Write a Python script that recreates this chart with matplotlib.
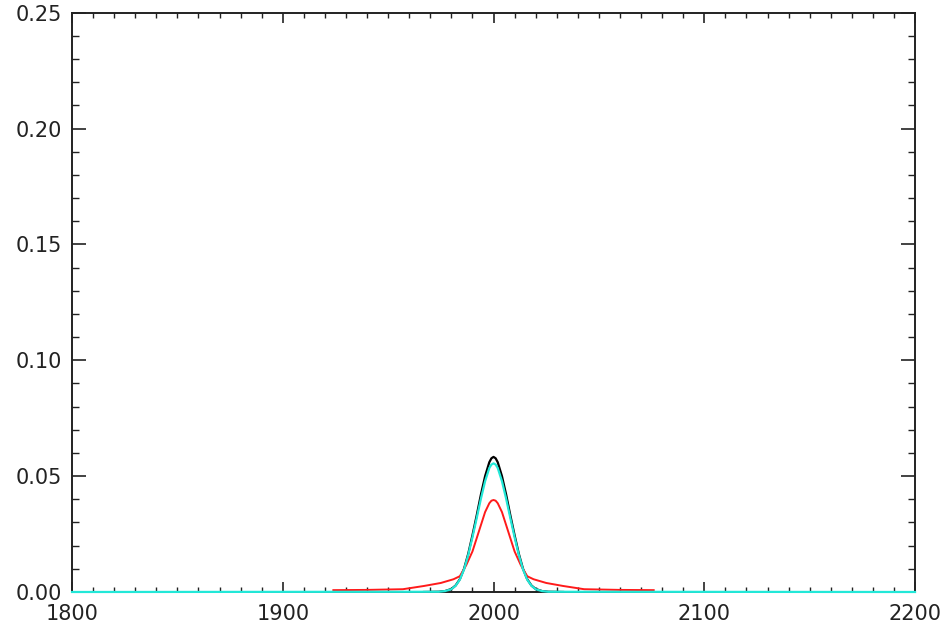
import matplotlib
matplotlib.use("Agg")
import matplotlib.pyplot as plt
from matplotlib.ticker import MultipleLocator

# ---- data ----
black_x = [1967, 1974, 1977, 1980, 1982, 1984, 1986, 1988, 1990, 1992, 1994, 1996, 1998, 1999, 2000,
           2001, 2002, 2004, 2006, 2008, 2010, 2012, 2014, 2016, 2018, 2020, 2023, 2026, 2033]
black_y = [0.0, 0.0001, 0.0004, 0.0013, 0.0028, 0.0055, 0.0100, 0.0165, 0.0245, 0.0330, 0.0420,
           0.0500, 0.0560, 0.0577, 0.0583, 0.0577, 0.0560, 0.0500, 0.0420, 0.0330, 0.0245,
           0.0165, 0.0100, 0.0055, 0.0028, 0.0013, 0.0004, 0.0001, 0.0]

cyan_x = [1800, 1974, 1977, 1980, 1982, 1984, 1986, 1988, 1990, 1992, 1994, 1996, 1998, 1999, 2000,
          2001, 2002, 2004, 2006, 2008, 2010, 2012, 2014, 2016, 2018, 2020, 2023, 2026, 2200]
cyan_y = [0.0, 0.0001, 0.0004, 0.0012, 0.0027, 0.0053, 0.0097, 0.0160, 0.0236, 0.0318, 0.0402,
          0.0478, 0.0535, 0.0550, 0.0555, 0.0550, 0.0535, 0.0478, 0.0402, 0.0318, 0.0236,
          0.0160, 0.0097, 0.0053, 0.0027, 0.0012, 0.0004, 0.0001, 0.0]

red_x = [1924, 1940, 1957, 1967, 1975, 1981, 1984, 1987, 1990, 1993, 1996, 1998, 1999, 2000,
         2001, 2002, 2004, 2007, 2010, 2013, 2016, 2019, 2025, 2033, 2043, 2060, 2076]
red_y = [0.0008, 0.0009, 0.0012, 0.0026, 0.0039, 0.0055, 0.0068, 0.0115, 0.0175, 0.0260,
         0.0345, 0.0383, 0.0394, 0.0397, 0.0394, 0.0383, 0.0345, 0.0260, 0.0175, 0.0115,
         0.0068, 0.0055, 0.0039, 0.0026, 0.0012, 0.0009, 0.0008]

x_ticks = [1800, 1900, 2000, 2100, 2200]
y_ticks = [0.00, 0.05, 0.10, 0.15, 0.20, 0.25]

fig = plt.figure(figsize=(9.49, 6.32), dpi=100)
ax = fig.add_axes([0.0759, 0.0633, 0.8883, 0.9166])

ax.plot(black_x, black_y, color="black", lw=1.6, zorder=3)
ax.plot(red_x, red_y, color="#ff1a1a", lw=1.4, zorder=4)
ax.plot(cyan_x, cyan_y, color="#22e8d8", lw=1.6, zorder=5, clip_on=False)

ax.set_xlim(1800, 2200)
ax.set_ylim(0, 0.25)
ax.set_xticks(x_ticks)
ax.set_yticks(y_ticks)
ax.set_xticklabels([str(v) for v in x_ticks])
ax.set_yticklabels([f"{v:.2f}" for v in y_ticks])
ax.xaxis.set_minor_locator(MultipleLocator(10))
ax.yaxis.set_minor_locator(MultipleLocator(0.01))

for s in ax.spines.values():
    s.set_linewidth(1.4)
    s.set_color("#222222")

ax.tick_params(axis="x", which="major", direction="in", length=7.5, width=1.2,
               top=True, bottom=True, labelsize=15, pad=9, colors="#222222")
ax.tick_params(axis="x", which="minor", direction="in", length=3.5, width=1.0,
               top=True, bottom=True, colors="#222222")
ax.tick_params(axis="y", which="major", direction="in", length=10, width=1.2,
               left=True, right=True, labelsize=15, pad=7, colors="#222222")
ax.tick_params(axis="y", which="minor", direction="in", length=5, width=1.0,
               left=True, right=True, colors="#222222")

fig.savefig("out.png", dpi=100)
